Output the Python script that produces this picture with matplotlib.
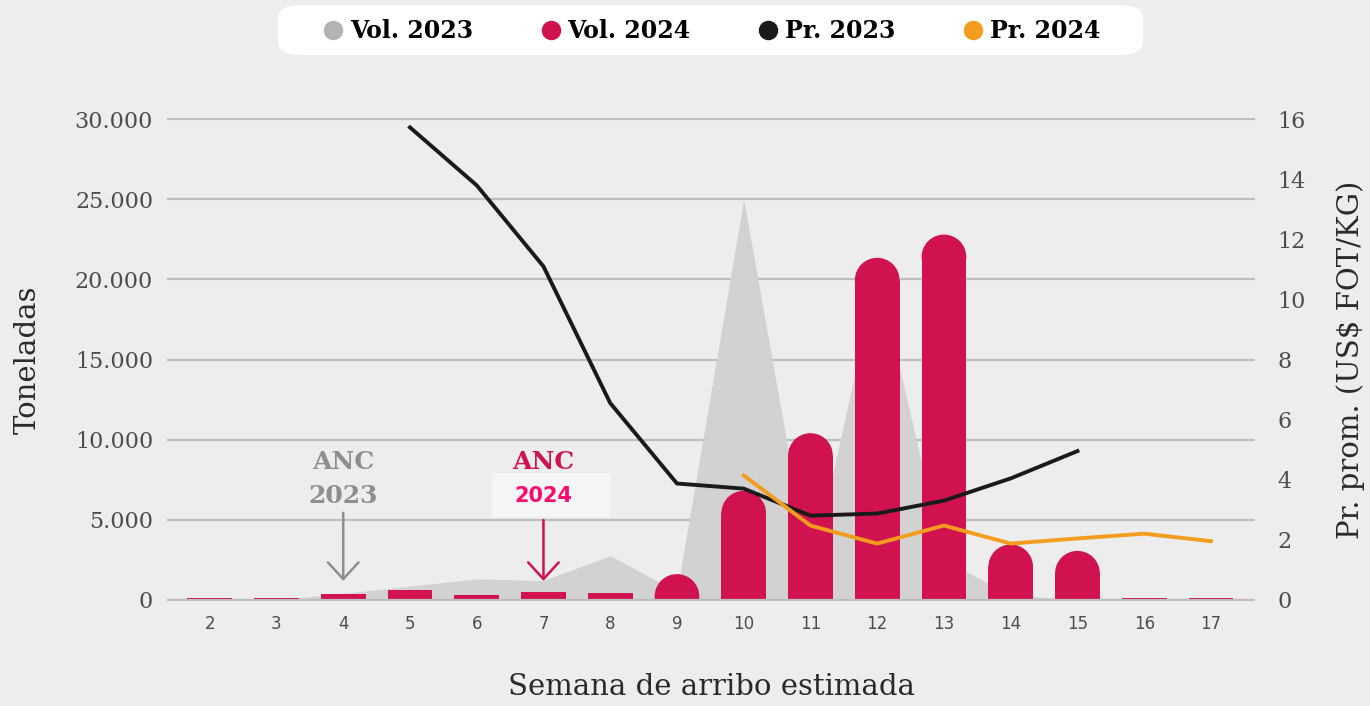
import matplotlib.pyplot as plt
import numpy as np
from matplotlib.lines import Line2D
from matplotlib.patches import Rectangle, Ellipse, FancyBboxPatch

# datos
semanas = [2, 3, 4, 5, 6, 7, 8, 9, 10, 11, 12, 13, 14, 15, 16, 17]
vol_2023 = [0, 0, 400, 850, 1300, 1200, 2750, 500, 25000, 1500, 20500, 2500, 300, 0, 0, 0]
vol_2024 = [100, 100, 350, 600, 300, 500, 450, 1600, 6800, 10400, 21350, 22800, 3450, 3050, 100, 100]

sem_pr23 = [5, 6, 7, 8, 9, 10, 11, 12, 13, 14, 15]
pr_2023 = [15.73, 13.8, 11.1, 6.55, 3.87, 3.7, 2.8, 2.87, 3.3, 4.04, 4.95]
sem_pr24 = [10, 11, 12, 13, 14, 15, 16, 17]
pr_2024 = [4.14, 2.47, 1.87, 2.47, 1.87, 2.04, 2.2, 1.95]

c_gris = "#d2d2d2"
c_rojo = "#d0134f"
c_negro = "#1a1a1a"
c_naranja = "#f39c1e"
fondo = "#ededed"
serif = "DejaVu Serif"

m = 80  # margen para que no se recorten las lineas de grilla
fig = plt.figure(figsize=(13.7, 7.06), dpi=100, facecolor=fondo)
ax = fig.add_axes([167/1370, 1-601/706, (1255-167)/1370, (601-118)/706])
ax.set_facecolor(fondo)
ax.set_xlim(1.36, 17.66)
ax.set_ylim(-m, 30000 + m)

ax.fill_between(semanas, vol_2023, 0, color=c_gris, lw=0, zorder=1)

# barras con punta redondeada
w = 0.67
bbox = ax.get_window_extent()
sx = bbox.width / (ax.get_xlim()[1] - ax.get_xlim()[0])
sy = bbox.height / (ax.get_ylim()[1] - ax.get_ylim()[0])
ry = (w / 2) * sx / sy
for s, v in zip(semanas, vol_2024):
    if v > ry:
        ax.add_patch(Rectangle((s - w/2, 0), w, v - ry, color=c_rojo, lw=0, zorder=2))
        ax.add_patch(Ellipse((s, v - ry), w, 2*ry, color=c_rojo, lw=0, zorder=2))
        ax.add_patch(Rectangle((s - w/2, -m), w, m, color=fondo, lw=0, zorder=2.1))
    else:
        ax.add_patch(Rectangle((s - w/2, 0), w, v, color=c_rojo, lw=0, zorder=2))

ax.set_yticks(np.arange(0, 30001, 5000))
ax.set_yticklabels(["0", "5.000", "10.000", "15.000", "20.000", "25.000", "30.000"])
ax.set_xticks(semanas)
ax.set_xticklabels([str(s) for s in semanas])
ax.grid(axis="y", color="#bebebe", lw=1.6)
ax.set_axisbelow(True)
ax.axhline(0, color="#bebebe", lw=1.6, zorder=2.2)
ax.tick_params(axis="y", length=0, labelsize=16, labelcolor="#4d4d4d", pad=10)
ax.tick_params(axis="x", length=0, labelsize=12, labelcolor="#4d4d4d", pad=10)
for sp in ax.spines.values():
    sp.set_visible(False)
for t in ax.get_yticklabels():
    t.set_family(serif)
ax.set_ylabel("Toneladas", fontsize=21, family=serif, color="#2a2a2a", labelpad=24)
ax.set_xlabel("Semana de arribo estimada", fontsize=21, family=serif, color="#2a2a2a", labelpad=29)

ax2 = ax.twinx()
k = 16 / 30000
ax2.set_ylim(-m * k, 16 + m * k)
ax2.plot(sem_pr23, pr_2023, color=c_negro, lw=2.8, zorder=3)
ax2.plot(sem_pr24, pr_2024, color=c_naranja, lw=2.8, zorder=3)
ax2.set_yticks(range(0, 17, 2))
ax2.tick_params(axis="y", length=0, labelsize=16, labelcolor="#4d4d4d", pad=16)
for t in ax2.get_yticklabels():
    t.set_family(serif)
for sp in ax2.spines.values():
    sp.set_visible(False)
ax2.set_ylabel("Pr. prom. (US$ FOT/KG)", fontsize=21, family=serif, color="#2a2a2a", labelpad=22)

# anotaciones ANC
ax.text(4, 8600, "ANC", ha="center", va="center", fontsize=18, family=serif,
        weight="bold", color="#8e8e8e")
ax.text(4, 6500, "2023", ha="center", va="center", fontsize=18, family=serif,
        weight="bold", color="#8e8e8e")
ax.annotate("", xy=(4, 1000), xytext=(4, 5600),
            arrowprops=dict(arrowstyle="->,head_length=0.6,head_width=0.55",
                            color="#8e8e8e", lw=1.8, mutation_scale=20))
ax.add_patch(Rectangle((6.23, 5150), 1.77, 2750, color="#f5f5f5", lw=0, zorder=4))
ax.text(7, 8600, "ANC", ha="center", va="center", fontsize=18, family=serif,
        weight="bold", color=c_rojo, zorder=5)
ax.text(7, 6500, "2024", ha="center", va="center", fontsize=15, family="DejaVu Sans",
        weight="bold", color="#ff0a6c", zorder=5)
ax.annotate("", xy=(7, 1000), xytext=(7, 5150),
            arrowprops=dict(arrowstyle="->,head_length=0.6,head_width=0.55",
                            color=c_rojo, lw=1.8, mutation_scale=20), zorder=5)

# leyenda
fig.patches.append(FancyBboxPatch((278/1370, 1-55/706), (1143-278)/1370, 50/706,
                                  boxstyle="round,pad=0,rounding_size=0.018",
                                  transform=fig.transFigure, fc="white", ec="none"))
handles = [Line2D([], [], ls="", marker="o", ms=13, color=c) for c in
           ["#b3b3b3", c_rojo, c_negro, c_naranja]]
labels = ["Vol. 2023", "Vol. 2024", "Pr. 2023", "Pr. 2024"]
leg = fig.legend(handles, labels, loc="center", bbox_to_anchor=(712/1370, 1-31/706),
                 ncol=4, frameon=False, handlelength=0.8, handletextpad=0.3,
                 columnspacing=2.9, prop=dict(family=serif, weight="bold", size=17))

fig.savefig("out.png", dpi=100, facecolor=fondo)
